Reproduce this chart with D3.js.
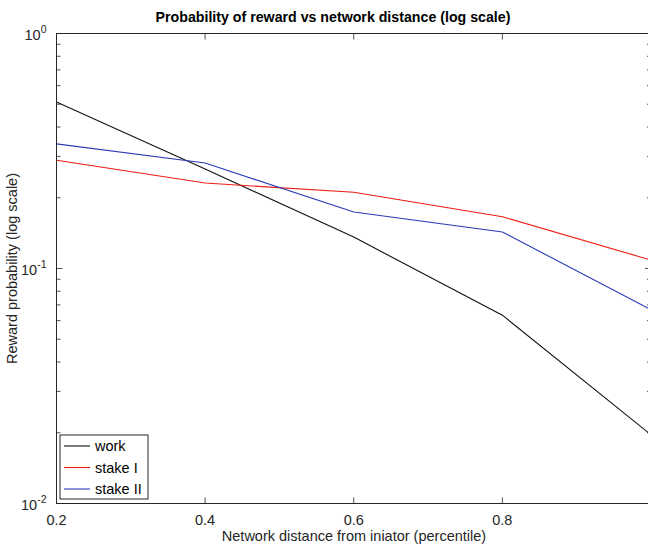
<!DOCTYPE html>
<html>
<head>
<meta charset="utf-8">
<script src="https://cdn.jsdelivr.net/npm/d3@7"></script>
<style>
	body { margin: 0; background: white; }
	text { font-family: "Liberation Sans", Arial, sans-serif; }
</style>
</head>
<body>
<script>
// percentile distance from initiator
var distance = [0.2, 0.4, 0.6, 0.8, 1.0]

var work = [0.511, 0.265, 0.136, 0.0633, 0.0196]
var stakeI = [0.289, 0.231, 0.211, 0.166, 0.1086]
var stakeII = [0.339, 0.281, 0.174, 0.143, 0.0668]

var seriesNames = ['work', 'stake I', 'stake II']
var seriesColors = ['#111111', '#f01c14', '#2a3cb4']

var xTicks = [0.2, 0.4, 0.6, 0.8, 1.0]
var xLabels = ['0.2', '0.4', '0.6', '0.8', '']
var yTicks = [1, 0.1, 0.01]
var yExp = ['0', '-1', '-2']

var width = 648,
	height = 547

var margin = {top: 33.5, right: -3, bottom: 43.5, left: 56.5}

var svg = d3.select('body').append('svg')
	.attr('width', width)
	.attr('height', height)

var x = d3.scaleLinear()
	.domain([0.2, 1.0])
	.range([margin.left, width - margin.right])

var y = d3.scaleLog()
	.domain([0.01, 1])
	.range([height - margin.bottom, margin.top])

var x0 = x.range()[0], x1 = x.range()[1]
var y0 = y.range()[0], y1 = y.range()[1]

// minor log ticks
var minor = []
;[0.01, 0.1].forEach(function(d) {
	for (var k = 2; k <= 9; k++) minor.push(d * k)
})

var ticks = svg.append('g')
	.attr('stroke', '#262626')
	.attr('stroke-width', 0.8)

ticks.selectAll('.ymin')
	.data(minor)
	.enter()
	.append('line')
		.attr('x1', x0).attr('x2', x0 + 4)
		.attr('y1', d => y(d)).attr('y2', d => y(d))

ticks.selectAll('.ymin2')
	.data(minor)
	.enter()
	.append('line')
		.attr('x1', x1).attr('x2', x1 - 4)
		.attr('y1', d => y(d)).attr('y2', d => y(d))

ticks.selectAll('.ymaj')
	.data(yTicks)
	.enter()
	.append('line')
		.attr('x1', x0).attr('x2', x0 + 6)
		.attr('y1', d => y(d)).attr('y2', d => y(d))

ticks.selectAll('.ymaj2')
	.data(yTicks)
	.enter()
	.append('line')
		.attr('x1', x1).attr('x2', x1 - 6)
		.attr('y1', d => y(d)).attr('y2', d => y(d))

ticks.selectAll('.xmaj')
	.data(xTicks)
	.enter()
	.append('line')
		.attr('x1', d => x(d)).attr('x2', d => x(d))
		.attr('y1', y0).attr('y2', y0 - 6)

ticks.selectAll('.xmaj2')
	.data(xTicks)
	.enter()
	.append('line')
		.attr('x1', d => x(d)).attr('x2', d => x(d))
		.attr('y1', y1).attr('y2', y1 + 6)

// lines
var line = d3.line()
	.x((d, i) => x(distance[i]))
	.y(d => y(d))

var allSeries = [work, stakeI, stakeII].map((v, i) => ({name: seriesNames[i], color: seriesColors[i], values: v}))

svg.selectAll('.series')
	.data(allSeries)
	.enter()
	.append('path')
		.attr('d', d => line(d.values))
		.attr('fill', 'none')
		.attr('stroke', d => d.color)
		.attr('stroke-width', 1.1)

// axis box
svg.append('rect')
	.attr('x', x0)
	.attr('y', y1)
	.attr('width', x1 - x0)
	.attr('height', y0 - y1)
	.attr('fill', 'none')
	.attr('stroke', '#262626')
	.attr('stroke-width', 1)

// x tick labels
svg.selectAll('.xlab')
	.data(xTicks)
	.enter()
	.append('text')
		.attr('x', d => x(d))
		.attr('y', y0 + 21)
		.attr('text-anchor', 'middle')
		.attr('font-size', 14.5)
		.attr('fill', '#262626')
		.text((d, i) => xLabels[i])

// y tick labels
var ylab = svg.selectAll('.ylab')
	.data(yTicks)
	.enter()
	.append('text')
		.attr('x', x0 - 10)
		.attr('y', d => y(d) + 6)
		.attr('text-anchor', 'end')
		.attr('font-size', 14.5)
		.attr('fill', '#262626')

ylab.append('tspan').text('10')
ylab.append('tspan')
	.attr('dy', -7)
	.attr('font-size', 10.5)
	.text((d, i) => yExp[i])

// title
svg.append('text')
	.attr('x', 333)
	.attr('y', 22)
	.attr('text-anchor', 'middle')
	.attr('font-size', 14.2)
	.attr('font-weight', 'bold')
	.attr('fill', '#000')
	.text('Probability of reward vs network distance (log scale)')

svg.append('text')
	.attr('x', 354)
	.attr('y', y0 + 37)
	.attr('text-anchor', 'middle')
	.attr('font-size', 14.5)
	.attr('fill', '#262626')
	.text('Network distance from iniator (percentile)')

svg.append('text')
	.attr('transform', 'translate(17,' + ((y0 + y1) / 2) + ') rotate(-90)')
	.attr('text-anchor', 'middle')
	.attr('font-size', 14.5)
	.attr('fill', '#262626')
	.text('Reward probability (log scale)')

// legend
var legend = svg.append('g')
	.attr('transform', 'translate(60,435)')

legend.append('rect')
	.attr('width', 88)
	.attr('height', 64)
	.attr('fill', 'white')
	.attr('stroke', '#262626')
	.attr('stroke-width', 1)

var items = legend.selectAll('.item')
	.data(allSeries)
	.enter()
	.append('g')
		.attr('transform', (d, i) => 'translate(0,' + (11 + i * 21.5) + ')')

items.append('line')
	.attr('x1', 4).attr('x2', 30)
	.attr('stroke', d => d.color)
	.attr('stroke-width', 1.1)

items.append('text')
	.attr('x', 35)
	.attr('y', 5)
	.attr('font-size', 14.5)
	.attr('fill', '#000')
	.text(d => d.name)
</script>
</body>
</html>
